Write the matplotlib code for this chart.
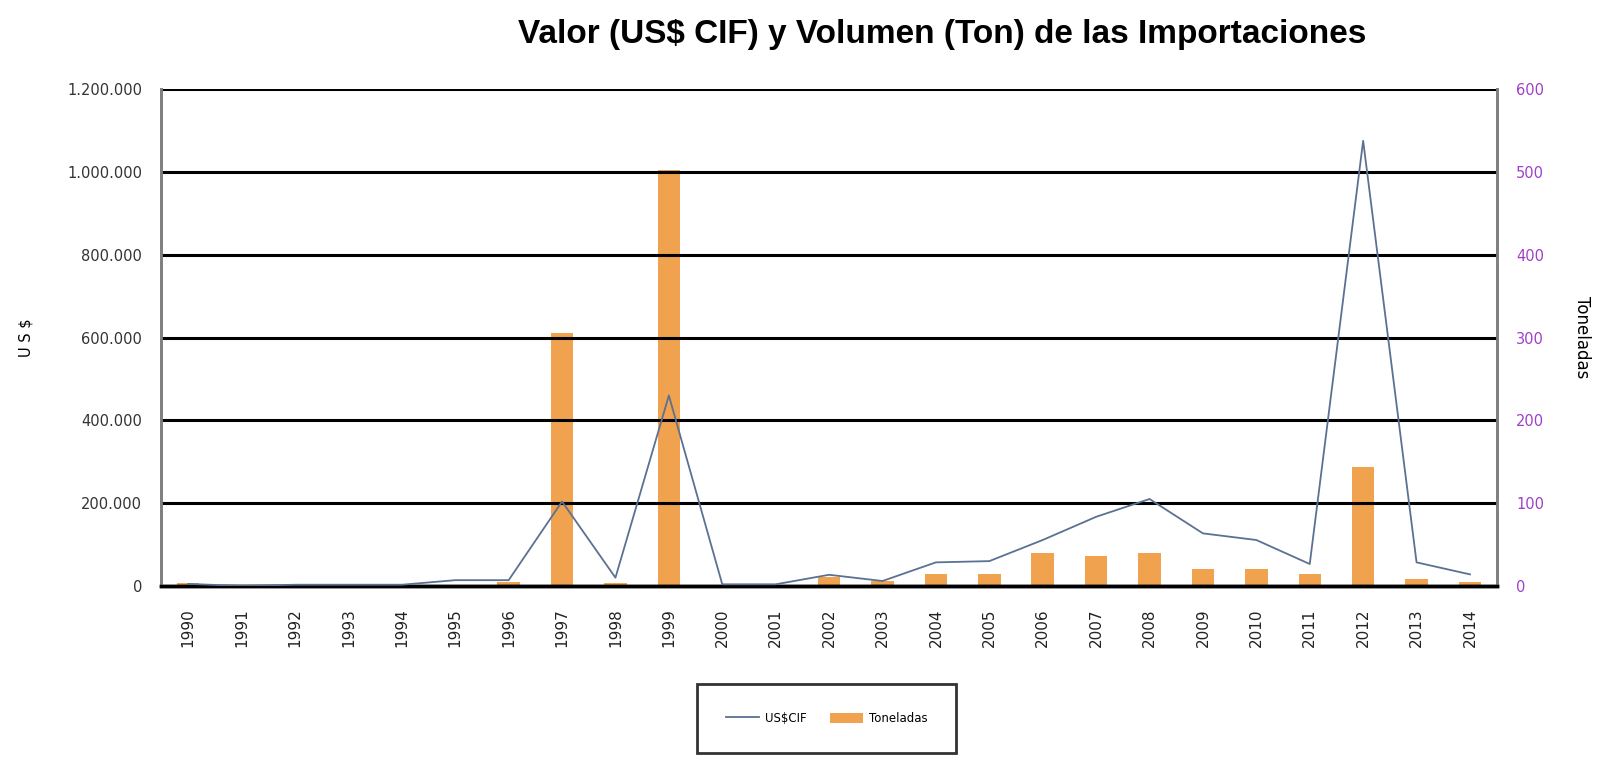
import numpy as np
import matplotlib
matplotlib.use("Agg")
import matplotlib.pyplot as plt
from matplotlib.ticker import FuncFormatter

# data
years = [str(y) for y in range(1990, 2015)]
usd_cif = [5000, 0, 3000, 3000, 3000, 14000, 14000, 204000, 20000, 460000,
           4000, 4000, 27000, 12000, 57000, 60000, 111000, 167000, 210000,
           127000, 111000, 53000, 1075000, 57000, 28000]
toneladas = [4, 0, 0, 0, 0, 0, 5, 305, 4, 502,
             0, 0, 11, 6, 15, 15, 40, 36, 40, 21, 21, 15, 144, 8, 5]

fig = plt.figure(figsize=(15.99, 7.61), dpi=100)
ax = fig.add_axes([0.101, 0.230, 0.835, 0.653])
ax2 = ax.twinx()

x = np.arange(len(years))
bar_color = "#F0A24E"
line_color = "#5B7192"

ax2.bar(x, toneladas, width=0.42, color=bar_color, label="Toneladas", zorder=2)
ln, = ax.plot(x, usd_cif, color=line_color, lw=1.3, label="US$CIF", zorder=3)

# line on top of bars
ax.set_zorder(ax2.get_zorder() + 1)
ax.patch.set_visible(False)

ax.set_xlim(-0.5, len(years) - 0.5)
ax.set_ylim(0, 1200000)
ax2.set_ylim(0, 600)
ax.set_yticks(range(0, 1200001, 200000))
ax2.set_yticks(range(0, 601, 100))
ax.yaxis.set_major_formatter(FuncFormatter(lambda v, p: f"{int(v):,}".replace(",", ".")))

for yv in range(200000, 1200001, 200000):
    ax.axhline(yv, color="black", lw=2.2, zorder=1)

ax.set_xticks(x)
ax.set_xticklabels(years, rotation=90, fontsize=11)
ax.tick_params(axis="x", length=0, pad=16, labelcolor="#222222")
ax.tick_params(axis="y", length=0, labelsize=10.5, labelcolor="#333333", pad=14)
ax2.tick_params(axis="y", length=0, labelsize=10.5, labelcolor="#A040C8", pad=14)

for a in (ax, ax2):
    a.spines["top"].set_visible(False)
    a.spines["left"].set_color("#808080")
    a.spines["right"].set_color("#808080")
    a.spines["left"].set_linewidth(2)
    a.spines["right"].set_linewidth(2)
    a.spines["bottom"].set_color("black")
    a.spines["bottom"].set_linewidth(2.5)

ax.set_ylabel("U S $", fontsize=10.5, labelpad=24)
ax2.set_ylabel("Toneladas", fontsize=12, rotation=-90, labelpad=34)

fig.text(0.589, 0.955, "Valor (US$ CIF) y Volumen (Ton) de las Importaciones",
         ha="center", va="center", fontsize=24, fontweight="bold",
         family=["Liberation Sans", "DejaVu Sans"])

handles = [ln, ax2.patches[0]]
leg = fig.legend(handles, ["US$CIF", "Toneladas"], loc="center",
                 bbox_to_anchor=(0.517, 0.056), ncol=2, fontsize=8.5,
                 frameon=True, fancybox=False, edgecolor="black",
                 borderpad=2.4, handlelength=2.8, handleheight=1.0,
                 handletextpad=0.5, columnspacing=2.0)
leg.get_frame().set_linewidth(2)

fig.savefig("out.png", dpi=100)
